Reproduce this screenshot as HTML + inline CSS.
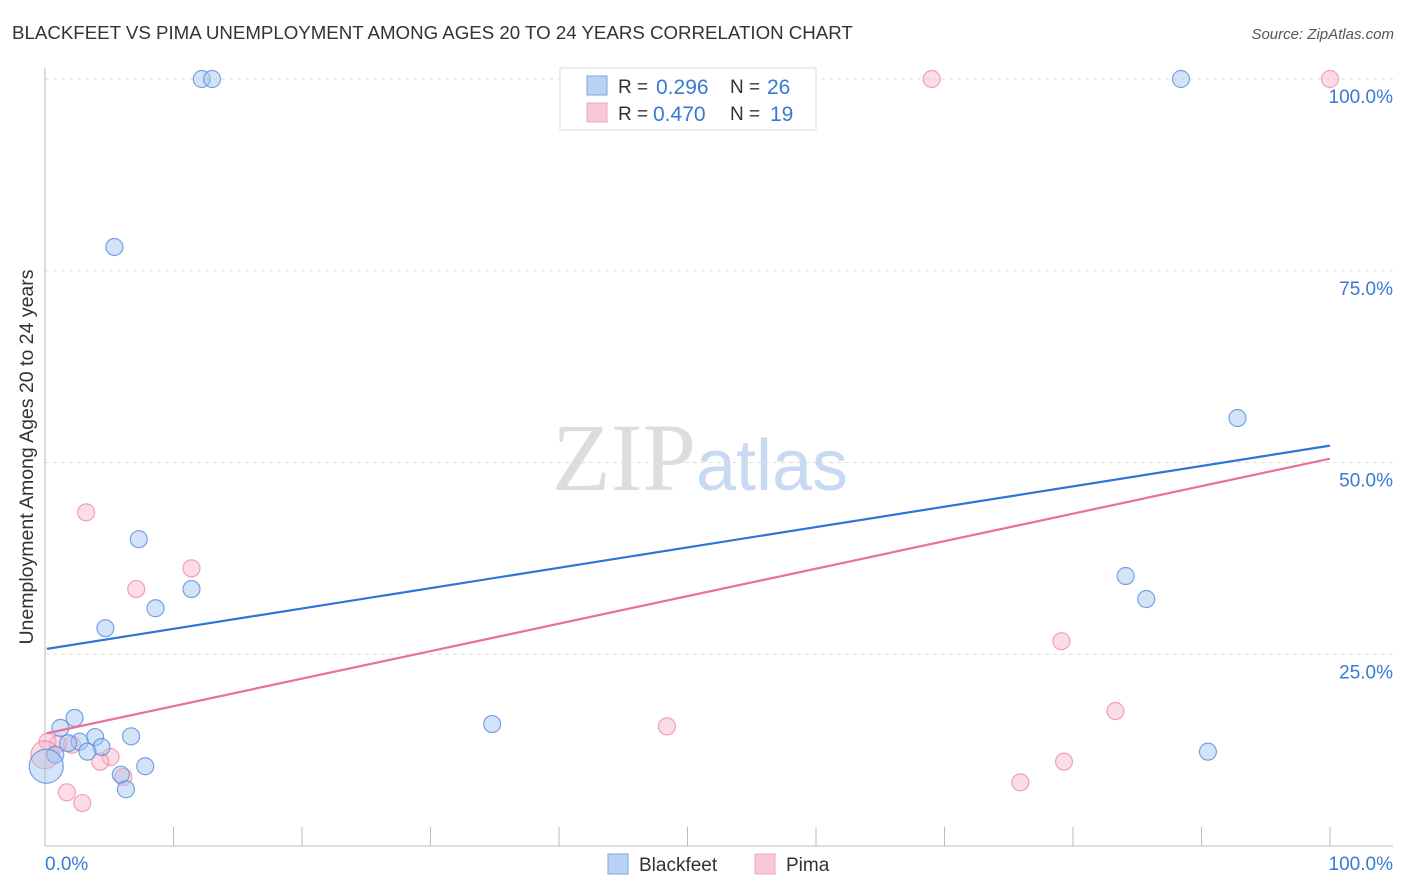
<!DOCTYPE html>
<html><head><meta charset="utf-8"><style>
body{margin:0;background:#fff;font-family:"Liberation Sans",sans-serif;}
svg{display:block}
</style></head><body>
<svg id="chart" width="1406" height="892">
<text x="12" y="39" font-size="18.7" fill="#333">BLACKFEET VS PIMA UNEMPLOYMENT AMONG AGES 20 TO 24 YEARS CORRELATION CHART</text>
<text x="1394" y="39" font-size="15" fill="#555" font-style="italic" text-anchor="end">Source: ZipAtlas.com</text>
<text transform="translate(33,457) rotate(-90)" font-size="19.5" fill="#333" text-anchor="middle">Unemployment Among Ages 20 to 24 years</text>
<text x="700" y="490" font-size="96" fill="#ddd" text-anchor="middle" font-family="Liberation Serif,serif">ZIP<tspan fill="#c8daf2" font-family="Liberation Sans,sans-serif" font-size="72">atlas</tspan></text>
<g id="grid"></g><g id="marks"></g>
<g>
<rect x="560" y="68" width="256" height="62" fill="#fff" stroke="#ddd"/>
<rect x="587" y="76" width="20" height="19" fill="#b9d3f5" stroke="#7aa6e6"/>
<rect x="587" y="103" width="20" height="19" fill="#f9c8d6" stroke="#f0a6bc"/>
<text x="618" y="93" font-size="19" fill="#333">R = </text><text x="656" y="94" font-size="21" fill="#3a78d8">0.296</text>
<text x="730" y="93" font-size="19" fill="#333">N = </text><text x="767" y="94" font-size="21" fill="#3a78d8">26</text>
<text x="618" y="120" font-size="19" fill="#333">R = </text><text x="653" y="121" font-size="21" fill="#3a78d8">0.470</text>
<text x="730" y="120" font-size="19" fill="#333">N = </text><text x="770" y="121" font-size="21" fill="#3a78d8">19</text>
</g>
<g>
<rect x="608" y="854" width="20" height="20" fill="#b9d3f5" stroke="#7aa6e6"/>
<text x="639" y="871" font-size="19" fill="#333">Blackfeet</text>
<rect x="755" y="854" width="20" height="20" fill="#f9c8d6" stroke="#f0a6bc"/>
<text x="786" y="871" font-size="19" fill="#333">Pima</text>
</g>
</svg>
<script>
const yTicks=[25,50,75,100];
const yTickLabels=["25.0%","50.0%","75.0%","100.0%"];
const blackX=[12.2,13.0,88.4,5.4,92.8,7.3,11.4,8.6,4.7,84.1,85.7,34.8,90.5,2.3,1.2,3.9,6.7,2.7,4.4,3.3,0.8,7.8,5.9,6.3,0.1,1.8];
const blackY=[100,100,100,78.1,55.8,40.0,33.5,31.0,28.4,35.2,32.2,15.9,12.3,16.7,15.4,14.2,14.3,13.6,12.9,12.3,11.9,10.4,9.3,7.4,10.4,13.4];
const blackR=[8.5,8.5,8.5,8.5,8.5,8.5,8.5,8.5,8.5,8.5,8.5,8.5,8.5,8.5,8.5,8.5,8.5,8.5,8.5,8.5,8.5,8.5,8.5,8.5,17,8.5];
const pimaX=[69.0,100,3.2,7.1,11.4,79.1,83.3,48.4,79.3,75.9,5.1,4.3,6.1,1.7,2.9,2.1,1.0,0.2,0];
const pimaY=[100,100,43.5,33.5,36.2,26.7,17.6,15.6,11.0,8.3,11.6,11.0,9.0,7.0,5.6,13.2,13.3,13.6,11.9];
const pimaR=[8.5,8.5,8.5,8.5,8.5,8.5,8.5,8.5,8.5,8.5,8.5,8.5,8.5,8.5,8.5,8.5,8.5,8.5,14];
const blackTrend=[25.7,52.2];
const pimaTrend=[14.7,50.5];
const NS="http://www.w3.org/2000/svg";
const X=v=>45+v*12.85, Y=v=>846-v*7.67;
const grid=document.getElementById('grid'), marks=document.getElementById('marks');
function mk(tag,attrs,parent){const e=document.createElementNS(NS,tag);for(const k in attrs)e.setAttribute(k,attrs[k]);parent.appendChild(e);return e;}
yTicks.forEach((t,i)=>{
  const l=mk('line',{x1:45,x2:1393,y1:Y(t),y2:Y(t),stroke:'#ddd','stroke-dasharray':'4,4'},grid);
  
  
  const tx=mk('text',{x:1393,y:Y(t)+24,'font-size':19,fill:'#3a78d8','text-anchor':'end'},grid);
  tx.textContent=yTickLabels[i];
  
  
});
const ax=mk('line',{x1:45,x2:1393,y1:846,y2:846,stroke:'#bbb'},grid);


const ay=mk('line',{x1:45,x2:45,y1:68,y2:846,stroke:'#bbb'},grid);


for(let i=0;i<=10;i++){const t=mk('line',{x1:X(i*10),x2:X(i*10),y1:827,y2:846,stroke:'#bbb'},grid);

}
[[0,"0.0%","start",45],[100,"100.0%","end",1393]].forEach(a=>{const t=mk('text',{x:a[3],y:870,'font-size':19,fill:'#3a78d8','text-anchor':a[2]},grid);t.textContent=a[1];

});
function pts(xs,ys,rs,fill,stroke,name){xs.forEach((x,i)=>{const c=mk('circle',{cx:X(x),cy:Y(ys[i]),r:rs[i],fill:fill,stroke:stroke,'stroke-width':1.2},marks);

});}
pts(pimaX,pimaY,pimaR,'rgba(248,180,200,0.45)','rgba(236,140,170,0.8)','pima-point');
pts(blackX,blackY,blackR,'rgba(160,196,240,0.45)','rgba(90,140,220,0.8)','blackfeet-point');
const bl=mk('line',{x1:X(0.15),x2:X(100),y1:Y(blackTrend[0]),y2:Y(blackTrend[1]),stroke:'#2f74d8','stroke-width':2.2},marks);


const pl=mk('line',{x1:X(0.15),x2:X(100),y1:Y(pimaTrend[0]),y2:Y(pimaTrend[1]),stroke:'#e8709a','stroke-width':2.2},marks);


</script>
</body></html>
